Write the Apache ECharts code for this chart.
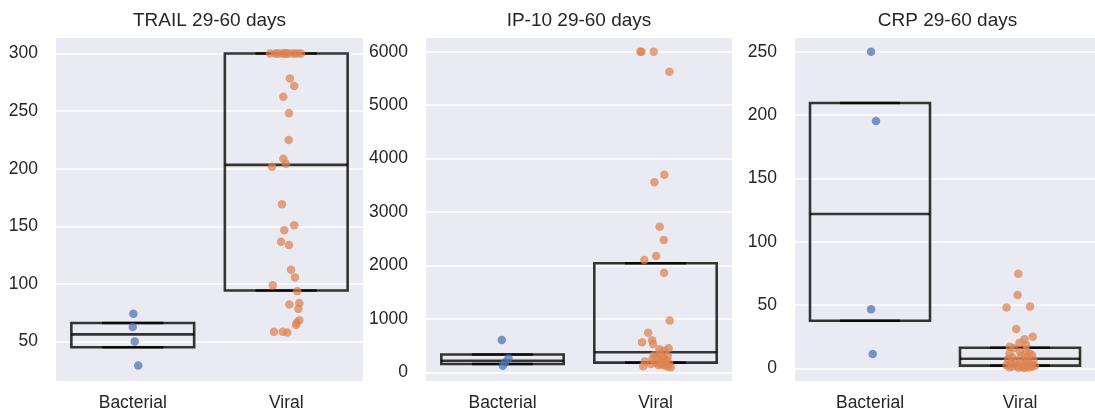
<!DOCTYPE html>
<html>
<head>
<meta charset="utf-8">
<script src="https://cdn.jsdelivr.net/npm/echarts@6/dist/echarts.min.js"></script>
<style>
  html, body { margin: 0; padding: 0; background: #fff; }
  #main { width: 1095px; height: 414px; }
</style>
</head>
<body>
<div id="main"></div>
<script>
// categories / titles
var categories = ['Bacterial', 'Viral'];
var panelTitles = ['TRAIL 29-60 days', 'IP-10 29-60 days', 'CRP 29-60 days'];

// TRAIL
var trailBacterial = [74.1, 62.6, 50, 29.3];
var trailBacterialJitter = [0.004, 0, 0.013, 0.036];
var trailViral = [300, 300, 300, 300, 300, 300, 300, 300, 300, 300, 300, 300,
    278.4, 271.8, 262.6, 248.3, 225, 208.6, 204.3, 201.7, 169.2, 150.9, 146.6, 136.7, 133.9,
    112.3, 105.7, 98.8, 93.6, 83.6, 82.2, 78.4, 68.6, 66.4, 64.4, 58.6, 58.6, 57.8];
var trailViralJitter = [-0.106, -0.073, -0.060, -0.041, -0.021, -0.008, 0, 0.011, 0.037, 0.057, 0.076, 0.096,
    0.024, 0.052, -0.019, 0.018, 0.016, -0.019, -0.002, -0.093, -0.028, 0.052, -0.013, -0.034, 0.018,
    0.031, 0.057, -0.088, 0.072, 0.085, 0.020, 0.079, 0.085, 0.068, 0.064, -0.080, -0.023, 0.007];
var trailBox = [[45.1, 56.3, 66.1], [94.3, 203.4, 300]]; // q1, median, q3

// IP-10
var ipBacterial = [604, 262, 190, 124];
var ipBacterialJitter = [-0.005, 0.039, 0.017, 0.002];
var ipViral = [6000, 6000, 6000, 5626, 3699, 3555, 2726, 2476, 2177, 2102,
    1865, 967, 741, 600, 560, 530, 449, 430, 405,
    345, 320, 300, 280, 265, 250, 230, 215, 200, 180, 172, 165, 155, 145, 135, 125, 115, 105, 95];
var ipViralJitter = [-0.099, -0.092, -0.012, 0.091, 0.058, -0.007, 0.027, 0.054, 0.004, -0.073,
    0.056, 0.093, -0.048, -0.022, -0.088, -0.016, 0.086, 0.026, 0.058,
    0.03, -0.01, 0.08, 0.01, 0.05, -0.02, 0.07, 0.03, -0.07, 0.05, 0.00, 0.09, -0.03, 0.04, 0.02, 0.06, -0.08, 0.08, 0.10];
var ipBox = [[155, 215, 332], [181, 374, 2040]];

// CRP
var crpBacterial = [250, 195.3, 46.6, 11.3];
var crpBacterialJitter = [0.007, 0.04, 0.007, 0.018];
var crpViral = [74.7, 57.9, 48.9, 48.1, 31, 25, 22.9, 20.2, 18.5, 17,
    16, 14, 13, 12, 11.5, 10.5, 9.5, 8.5, 8.0,
    7.2, 6.5, 5.9, 5.2, 4.5, 3.9, 3.3, 2.8, 2.4, 2.0, 1.9, 1.7, 1.5, 1.3, 1.1, 0.9, 0.7, 0.5, 0.3];
var crpViralJitter = [-0.011, -0.016, 0.067, -0.09, -0.025, 0.085, 0.03, -0.003, 0.04, -0.069,
    -0.04, 0.04, 0, 0.06, -0.07, 0.08, 0.01, -0.05, 0.04,
    -0.08, 0.09, -0.03, 0.05, 0.0, -0.06, 0.07, 0.02, -0.09, 0.1, -0.02, 0.04, -0.05, 0.08, 0.01, -0.07, 0.06, -0.01, 0.03];
var crpBox = [[37.6, 121.8, 209.5], [2.1, 7.6, 16.3]];

var panels = [
    { bac: trailBacterial, bacJ: trailBacterialJitter, vir: trailViral, virJ: trailViralJitter, box: trailBox, min: 15.8, max: 313.5 },
    { bac: ipBacterial, bacJ: ipBacterialJitter, vir: ipViral, virJ: ipViralJitter, box: ipBox, min: -163, max: 6256 },
    { bac: crpBacterial, bacJ: crpBacterialJitter, vir: crpViral, virJ: crpViralJitter, box: crpBox, min: -10, max: 260.8 }
];

var gridLeft = [56, 426, 795];
var gridWidth = [307, 306, 305];
var FONT = "'Liberation Sans', Arial, sans-serif";
var TEXT = '#262626';
var colors = ['#4C72B0', '#DD8452'];

var myChart = echarts.init(document.getElementById('main'));

function renderBox(params, api) {
    var x = api.value(0), q1 = api.value(1), med = api.value(2), q3 = api.value(3);
    var tl = api.coord([x - 0.4, q3]);
    var br = api.coord([x + 0.4, q1]);
    var m = api.coord([x, med]);
    var cl = api.coord([x - 0.2, q1])[0];
    var cr = api.coord([x + 0.2, q1])[0];
    var st = { stroke: 'rgba(0,0,0,0.78)', lineWidth: 2.6, fill: 'none' };
    return {
        type: 'group',
        children: [
            { type: 'rect', shape: { x: tl[0], y: tl[1], width: br[0] - tl[0], height: br[1] - tl[1] }, style: st },
            { type: 'line', shape: { x1: tl[0], y1: m[1], x2: br[0], y2: m[1] }, style: st },
            { type: 'line', shape: { x1: cl, y1: tl[1], x2: cr, y2: tl[1] }, style: st },
            { type: 'line', shape: { x1: cl, y1: br[1], x2: cr, y2: br[1] }, style: st }
        ]
    };
}

var grids = [], xAxes = [], yAxes = [], series = [], graphics = [];

panels.forEach(function (p, i) {
    grids.push({
        left: gridLeft[i], top: 38, width: gridWidth[i], height: 343,
        show: true, backgroundColor: '#EAEAF2', borderWidth: 0
    });
    // category axis for labels
    xAxes.push({
        type: 'category', gridIndex: i, data: categories, boundaryGap: true,
        axisLine: { show: false }, axisTick: { show: false }, splitLine: { show: false },
        axisLabel: { color: TEXT, fontSize: 17.5, fontFamily: FONT, margin: 13 }
    });
    // hidden value axis for jittered points
    xAxes.push({
        type: 'value', gridIndex: i, min: -0.5, max: 1.5, show: false
    });
    yAxes.push({
        type: 'value', gridIndex: i, min: p.min, max: p.max, splitNumber: 5,
        axisLine: { show: false }, axisTick: { show: false },
        axisLabel: {
            color: TEXT, fontSize: 17.5, fontFamily: FONT, margin: 18,
            showMinLabel: false, showMaxLabel: false,
            formatter: function (v) { return String(v); }
        },
        splitLine: { show: true, showMinLine: false, showMaxLine: false, lineStyle: { color: '#ffffff', width: 1.6 } }
    });
    series.push({
        type: 'custom', xAxisIndex: 2 * i + 1, yAxisIndex: i, renderItem: renderBox, z: 2, silent: true,
        encode: { x: 0, y: [1, 2, 3] },
        data: p.box.map(function (b, k) { return [k, b[0], b[1], b[2]]; })
    });
    [[p.bac, p.bacJ], [p.vir, p.virJ]].forEach(function (g, k) {
        series.push({
            type: 'scatter', xAxisIndex: 2 * i + 1, yAxisIndex: i, z: 3, symbolSize: 8.5,
            itemStyle: { color: colors[k], opacity: 0.72 },
            data: g[0].map(function (v, j) { return [k + g[1][j], v]; })
        });
    });
    graphics.push({
        type: 'text', x: gridLeft[i] + gridWidth[i] / 2, y: 21,
        style: { text: panelTitles[i], textAlign: 'center', textVerticalAlign: 'middle', fill: TEXT, font: '19px ' + FONT }
    });
});

var option = {
    backgroundColor: '#ffffff',
    animation: false,
    grid: grids,
    xAxis: xAxes,
    yAxis: yAxes,
    series: series,
    graphic: graphics
};

myChart.setOption(option);
</script>
</body>
</html>
